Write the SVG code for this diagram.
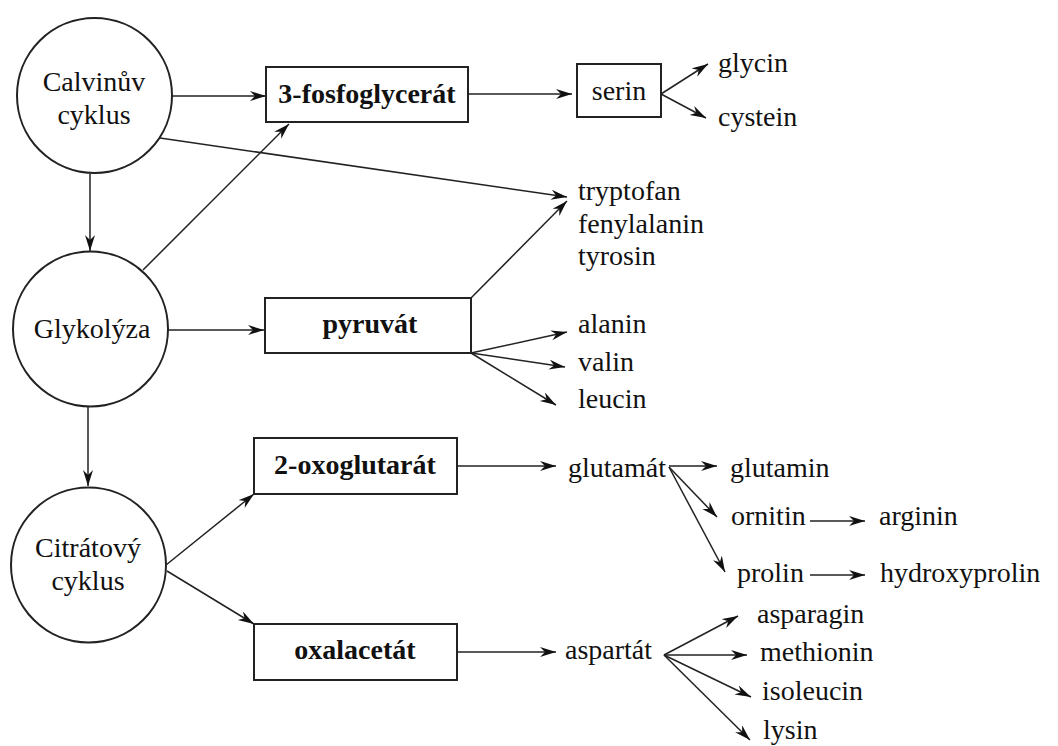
<svg xmlns="http://www.w3.org/2000/svg" width="1058" height="746" viewBox="0 0 1058 746">
<style>
text{font-family:"Times New Roman","Liberation Serif",Tinos,serif;font-size:28px;fill:#111}
.b{font-weight:bold}
.m{text-anchor:middle}
.node{fill:#fff;stroke:#222;stroke-width:2}
.e line{stroke:#222;stroke-width:1.5;marker-end:url(#ah)}
</style>
<defs>
<marker id="ah" markerUnits="userSpaceOnUse" markerWidth="18" markerHeight="12" refX="16" refY="5" orient="auto">
<path d="M0,0 L16,5 L0,10 L5,5 z" fill="#111"/>
</marker>
</defs>
<rect width="1058" height="746" fill="#fff"/>
<g class="e" id="connectors">
<line x1="90" y1="174" x2="90" y2="251"/>
<line x1="88" y1="407" x2="88" y2="486"/>
<line x1="168" y1="96" x2="266" y2="96"/>
<line x1="160" y1="138" x2="567" y2="197"/>
<line x1="143" y1="270" x2="289" y2="124"/>
<line x1="468" y1="94" x2="572" y2="94"/>
<line x1="661" y1="94" x2="708" y2="64"/>
<line x1="661" y1="94" x2="706" y2="118"/>
<line x1="168" y1="330" x2="264" y2="330"/>
<line x1="471" y1="298" x2="567" y2="201"/>
<line x1="471" y1="353" x2="567" y2="332"/>
<line x1="471" y1="353" x2="565" y2="367"/>
<line x1="471" y1="353" x2="556" y2="405"/>
<line x1="166" y1="565" x2="254" y2="494"/>
<line x1="167" y1="571" x2="254" y2="624"/>
<line x1="457" y1="466" x2="556" y2="466"/>
<line x1="669" y1="466" x2="717" y2="466"/>
<line x1="669" y1="467" x2="717" y2="517"/>
<line x1="669" y1="467" x2="725" y2="572"/>
<line x1="810" y1="521" x2="865" y2="521"/>
<line x1="810" y1="575" x2="865" y2="575"/>
<line x1="457" y1="652" x2="556" y2="652"/>
<line x1="664" y1="655" x2="738" y2="616"/>
<line x1="664" y1="655" x2="747" y2="655"/>
<line x1="664" y1="655" x2="751" y2="697"/>
<line x1="664" y1="655" x2="750" y2="740"/>
</g>
<g id="calvin"><circle class="node" cx="94.5" cy="95.5" r="77.5"/><text class="m" x="94" y="91">Calvinův</text><text class="m" x="94" y="124">cyklus</text></g>
<g id="glykolyza"><circle class="node" cx="90.5" cy="329" r="77.5"/><text class="m" x="92" y="338">Glykolýza</text></g>
<g id="citrat"><circle class="node" cx="88.5" cy="565" r="77.5"/><text class="m" x="88" y="557">Citrátový</text><text class="m" x="88" y="590">cyklus</text></g>
<g id="fosfoglycerat"><rect class="node" x="266" y="67" width="202" height="55"/><text class="m b" x="367" y="103">3-fosfoglycerát</text></g>
<g id="serin"><rect class="node" x="577" y="64" width="84" height="53"/><text class="m" x="619" y="100">serin</text></g>
<g id="glycin"><text x="718" y="72">glycin</text></g>
<g id="cystein"><text x="718" y="126">cystein</text></g>
<g id="aromaticke"><text x="578" y="200">tryptofan</text><text x="578" y="233">fenylalanin</text><text x="578" y="265">tyrosin</text></g>
<g id="pyruvat"><rect class="node" x="265" y="298" width="206" height="55"/><text class="m b" x="370" y="333">pyruvát</text></g>
<g id="alanin"><text x="578" y="333">alanin</text></g>
<g id="valin"><text x="578" y="371">valin</text></g>
<g id="leucin"><text x="578" y="408">leucin</text></g>
<g id="oxoglutarat"><rect class="node" x="254" y="438" width="203" height="56"/><text class="m b" x="355" y="474">2-oxoglutarát</text></g>
<g id="oxalacetat"><rect class="node" x="254" y="624" width="203" height="56"/><text class="m b" x="355" y="659">oxalacetát</text></g>
<g id="glutamat"><text x="568" y="477">glutamát</text></g>
<g id="glutamin"><text x="730" y="477">glutamin</text></g>
<g id="ornitin"><text x="731" y="525">ornitin</text></g>
<g id="arginin"><text x="879" y="525">arginin</text></g>
<g id="prolin"><text x="737" y="582">prolin</text></g>
<g id="hydroxyprolin"><text x="880" y="582">hydroxyprolin</text></g>
<g id="aspartat"><text x="565" y="659">aspartát</text></g>
<g id="asparagin"><text x="757" y="623">asparagin</text></g>
<g id="methionin"><text x="760" y="661">methionin</text></g>
<g id="isoleucin"><text x="762" y="700">isoleucin</text></g>
<g id="lysin"><text x="763" y="739">lysin</text></g>
</svg>
